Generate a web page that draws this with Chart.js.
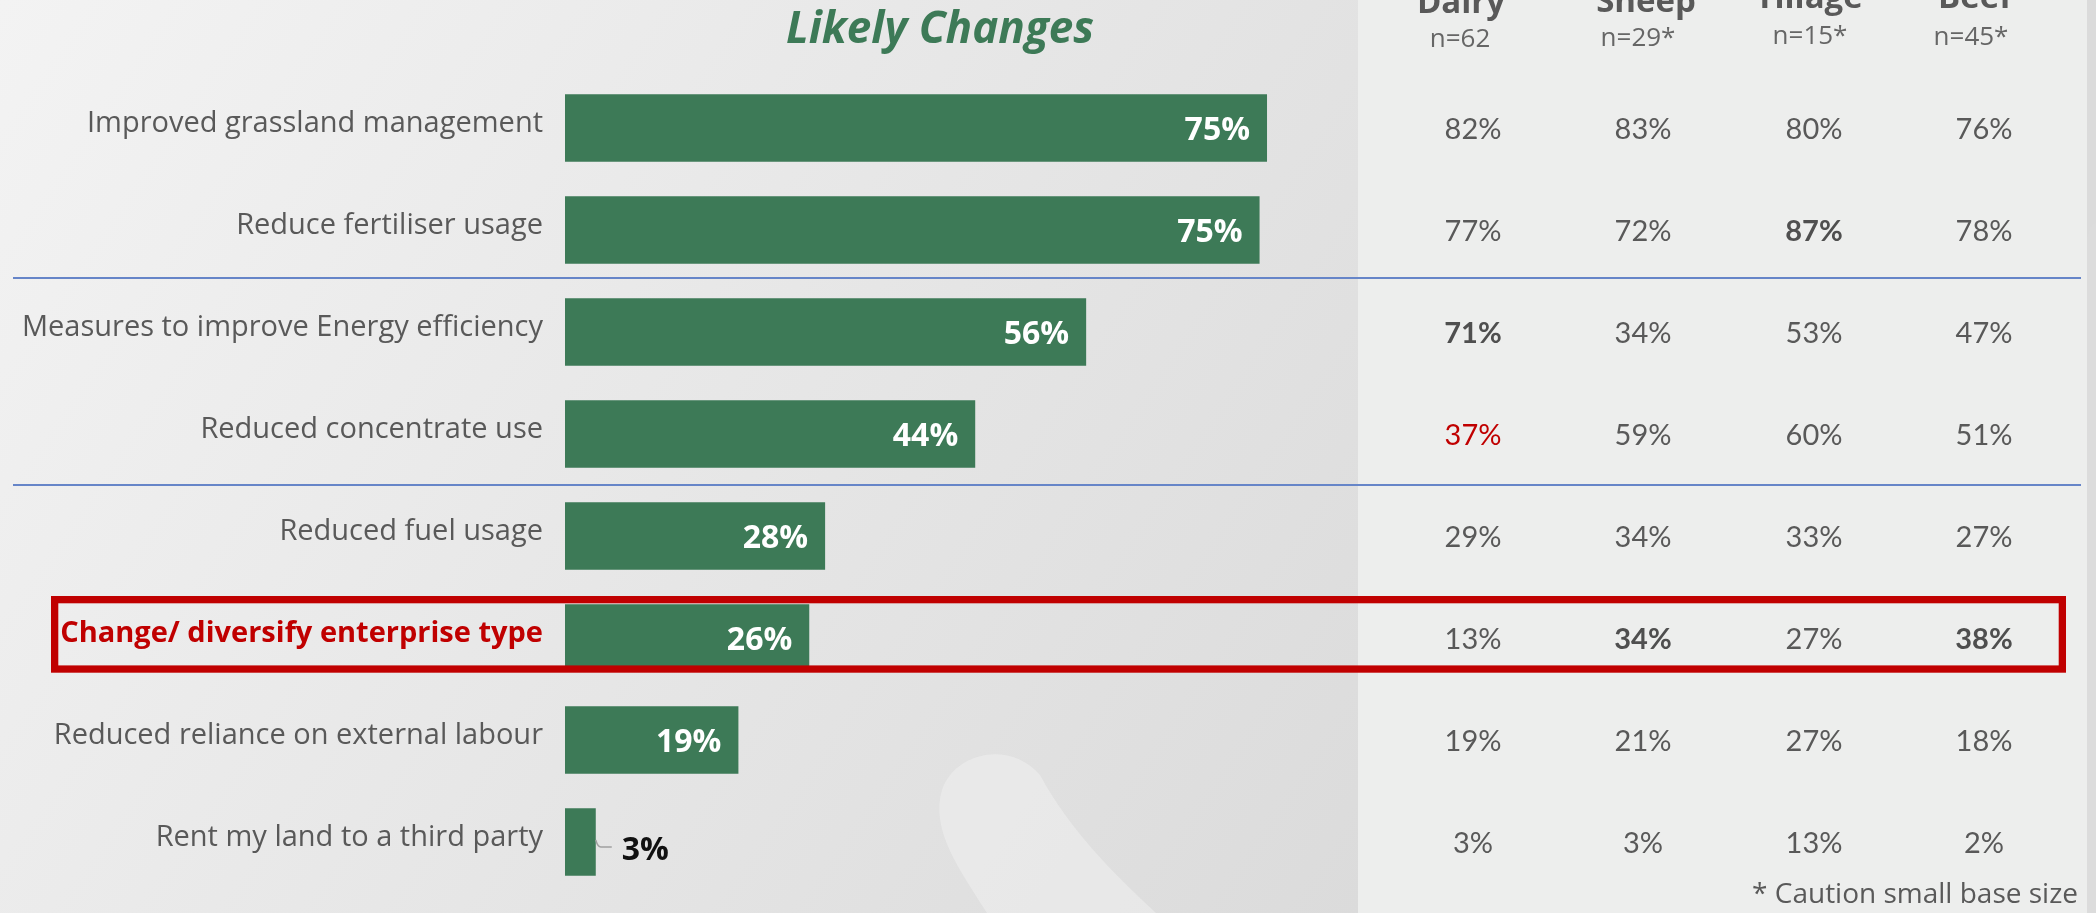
<!DOCTYPE html>
<html><head><meta charset="utf-8">
<script src="https://cdn.jsdelivr.net/npm/chart.js@4"></script>
<style>
html,body{margin:0;padding:0;background:#e8e8e8;overflow:hidden}
#wrap{position:relative;width:2096px;height:913px}
canvas{display:block}
</style></head>
<body><div id="wrap"><canvas id="c" width="2096" height="913"></canvas></div>
<script>
// ---- data ----
const categories = [
  'Improved grassland management',
  'Reduce fertiliser usage',
  'Measures to improve Energy efficiency',
  'Reduced concentrate use',
  'Reduced fuel usage',
  'Change/ diversify enterprise type',
  'Reduced reliance on external labour',
  'Rent my land to a third party'
];
const overall = [75.3, 74.5, 55.9, 44.0, 27.9, 26.2, 18.6, 3.3];
const segments = ['Dairy', 'Sheep', 'Tillage', 'Beef'];
const bases = ['n=62', 'n=29*', 'n=15*', 'n=45*'];
const dairy = [82, 77, 71, 37, 29, 13, 19, 3];
const sheep = [83, 72, 34, 59, 34, 34, 21, 3];
const tillage = [80, 87, 53, 60, 33, 27, 27, 13];
const beef = [76, 78, 47, 51, 27, 38, 18, 2];
const boldCells = [[1, 2], [2, 0], [5, 1], [5, 3]]; // [row, column]
const redCells = [[3, 0]];
const highlightRow = 5;
const title = 'Likely Changes';
const footnote = '* Caution small base size';

// ---- layout / style constants ----
const GREEN = '#3d7a57';
const GREY = '#595959';
const RED = '#c00000';
const FONT = '"Open Sans", Lato, sans-serif';
const TFONT = 'Lato, "Open Sans", sans-serif';
const colX = [1473, 1643, 1814, 1984];
const headX = [1461, 1646, 1809, 1975];
const headY = [13, 12, 8, 8];
const baseX = [1460, 1638, 1810, 1971];
const baseY = [47, 45.5, 43.5, 45];
const table = [dairy, sheep, tillage, beef];

const bgPlugin = {
  id: 'bg',
  beforeDraw(chart) {
    const c = chart.ctx;
    c.save();
    const g = c.createLinearGradient(0, 0, 1360, 913);
    g.addColorStop(0, '#f3f3f3');
    g.addColorStop(1, '#dbdbdb');
    c.fillStyle = g;
    c.fillRect(0, 0, 2096, 913);
    // faint watermark shape
    c.fillStyle = 'rgba(245,245,243,0.45)';
    c.beginPath();
    c.moveTo(987, 913);
    c.bezierCurveTo(960, 870, 930, 830, 942, 790);
    c.bezierCurveTo(955, 752, 1010, 740, 1040, 775);
    c.bezierCurveTo(1070, 830, 1110, 870, 1156, 913);
    c.closePath();
    c.fill();
    // table panel
    c.fillStyle = '#edeeed';
    c.fillRect(1358, 0, 729, 913);
    // right strip
    c.fillStyle = '#dcdcdc';
    c.beginPath();
    c.moveTo(2087, 913);
    c.lineTo(2087, 240);
    c.quadraticCurveTo(2088, 226, 2096, 222);
    c.lineTo(2096, 913);
    c.closePath();
    c.fill();
    c.restore();
  }
};

const overlayPlugin = {
  id: 'overlay',
  afterDraw(chart) {
    const c = chart.ctx;
    const ys = chart.scales.y;
    const meta = chart.getDatasetMeta(0);
    c.save();
    // separators
    c.strokeStyle = '#6685c8';
    c.lineWidth = 2;
    [[1, 2, -3], [3, 4, 0]].forEach(([a, b, d]) => {
      const y = (ys.getPixelForValue(a) + ys.getPixelForValue(b)) / 2 + d;
      c.beginPath(); c.moveTo(13, y); c.lineTo(2081, y); c.stroke();
    });
    // bar value labels
    meta.data.forEach((el, i) => {
      const txt = Math.round(overall[i]) + '%';
      c.font = 'bold 32px ' + FONT;
      c.textBaseline = 'alphabetic';
      if (overall[i] >= 10) {
        c.fillStyle = '#ffffff';
        c.textAlign = 'right';
        c.fillText(txt, el.x - 17, el.y + 11.5);
      } else {
        c.strokeStyle = '#a0a0a0';
        c.lineWidth = 1.5;
        c.beginPath();
        c.moveTo(el.x, el.y - 2);
        c.quadraticCurveTo(el.x + 2, el.y + 5, el.x + 5, el.y + 5);
        c.lineTo(el.x + 16, el.y + 5);
        c.stroke();
        c.fillStyle = '#111111';
        c.textAlign = 'left';
        c.fillText(txt, el.x + 26, el.y + 18);
      }
    });
    // table values
    c.textAlign = 'center';
    c.textBaseline = 'alphabetic';
    table.forEach((col, j) => {
      col.forEach((v, i) => {
        const y = ys.getPixelForValue(i);
        const bold = boldCells.some(([r, k]) => r === i && k === j);
        const red = redCells.some(([r, k]) => r === i && k === j);
        c.font = (bold ? 'bold ' : 'normal ') + '29px ' + TFONT;
        c.fillStyle = red ? RED : (bold ? '#4f4f4f' : GREY);
        c.fillText(v + '%', colX[j], y + 10.6);
      });
    });
    // headers
    segments.forEach((s, j) => {
      c.font = 'bold 33px ' + FONT;
      c.fillStyle = GREY;
      c.fillText(s, headX[j], headY[j]);
      c.font = '26px ' + FONT;
      c.fillStyle = '#666666';
      c.fillText(bases[j], baseX[j], baseY[j]);
    });
    // title
    c.font = 'italic bold 44px ' + FONT;
    c.fillStyle = GREEN;
    c.fillText(title, 940, 43);
    // highlight box
    const yc = ys.getPixelForValue(highlightRow);
    const lw = 7.3;
    c.strokeStyle = RED;
    c.lineWidth = lw;
    c.strokeRect(51 + lw / 2, yc - 42 + lw / 2, 2015 - lw, 76.7 - lw);
    // footnote
    c.font = '28px ' + FONT;
    c.fillStyle = GREY;
    c.textAlign = 'right';
    c.fillText(footnote, 2078, 903);
    c.restore();
  }
};

new Chart(document.getElementById('c'), {
  type: 'bar',
  data: {
    labels: categories,
    datasets: [{
      data: overall,
      backgroundColor: GREEN,
      borderWidth: 0,
      categoryPercentage: 1,
      barPercentage: 0.662
    }]
  },
  options: {
    indexAxis: 'y',
    responsive: false,
    animation: false,
    events: [],
    layout: { padding: { left: 0, top: 77, right: 598.7, bottom: 20 } },
    plugins: { legend: { display: false }, tooltip: { enabled: false } },
    scales: {
      x: { display: false, min: 0, max: 100 },
      y: {
        grid: { display: false, drawTicks: false },
        border: { display: false },
        ticks: {
          padding: 22,
          labelOffset: -4,
          color: (ctx) => ctx.index === highlightRow ? RED : GREY,
          font: (ctx) => ctx.index === highlightRow
            ? { family: FONT, size: 29, weight: 'bold' }
            : { family: FONT, size: 29, weight: 'normal' }
        },
        afterFit: (s) => { s.width = 565; s.paddingTop = 0; s.paddingBottom = 0; }
      }
    }
  },
  plugins: [bgPlugin, overlayPlugin]
});
</script>
</body></html>
